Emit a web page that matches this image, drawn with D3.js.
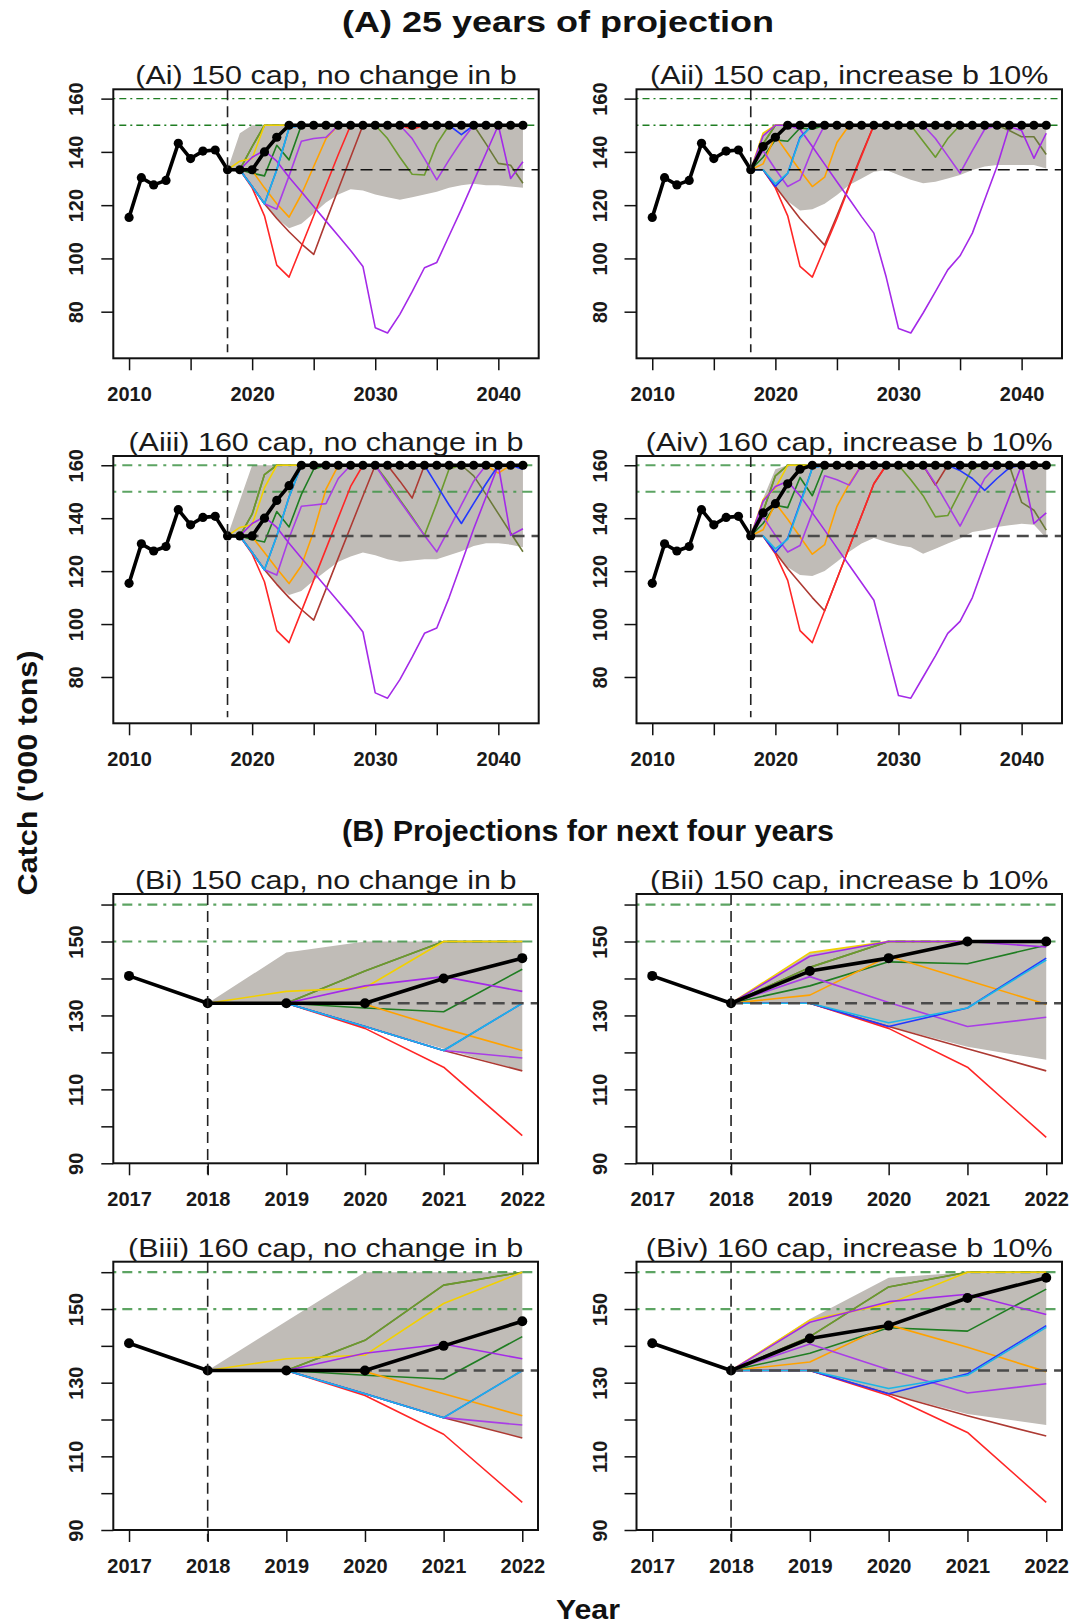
<!DOCTYPE html>
<html>
<head>
<meta charset="utf-8">
<script src="https://cdn.jsdelivr.net/npm/d3@7/dist/d3.min.js"></script>
<style>
  body { margin: 0; background: #fff; }
  svg { display: block; font-family: "Liberation Sans", Arial, sans-serif; }
</style>
</head>
<body>
<div id="chart"></div>
<script>
// ---- data ----
var histYears = [2010, 2011, 2012, 2013, 2014, 2015, 2016, 2017];
var histCatch = [115.4, 130.3, 127.6, 129.3, 143.2, 137.5, 140.3, 140.7];
var projYears = [2018, 2019, 2020, 2021, 2022, 2023, 2024, 2025, 2026, 2027, 2028, 2029, 2030,
                 2031, 2032, 2033, 2034, 2035, 2036, 2037, 2038, 2039, 2040, 2041, 2042];
var refCatch = 133.3;
var capLevels = [150, 160];
var projStart = 2018;

// scenario 1: 150 cap, no change in b
var s1Black  = [133.3,133.3,133.3,140,145.5, 150,150,150,150,150, 150,150,150,150,150, 150,150,150,150,150, 150,150,150,150,150];
var s1Hi     = [133.3,147,150,150,150, 150,150,150,150,150, 150,150,150,150,150, 150,150,150,150,150, 150,150,150,150,150];
var s1Lo     = [133.3,133.3,127,121,115, 111.3,113,117,121,124, 126,125.5,124,123,122, 123,124,125,126.5,127.5, 128,127.5,127.5,127,126.5];
var s1Red    = [133.3,133.3,126.5,116,97.5, 93,104.5,116,127.5,139, 150,150,150,150,150, 148.5,150,150,150,150, 150,150,150,150,150];
var s1Brown  = [133.3,133.3,127,120.5,115, 110,105.5,101.5,113.9,126, 138,150,150,150,150, 150,150,150,150,150, 150,150,150,150,150];
var s1Purple = [133.3,133.3,138,140.5,136.5, 130.5,125,119.5,114,108.5, 103,97,74,72,79, 87.5,96.5,98.5,108.5,118.5, 129,139.5,150,130,136.3];
var s1Violet = [133.3,133.3,127,120.5,118.5, 131,144,145,145.5,150, 150,150,150,150,150, 145,137.5,129.5,137,144, 150,150,150,150,150];
var s1Orange = [133.3,133.3,133,126.5,120.5, 115.5,124,134.5,145,150, 150,150,150,150,150, 150,150,150,150,150, 150,150,150,150,150];
var s1Cyan   = [133.3,133.3,127,120.5,133.3, 149,150,150,150,150, 150,150,150,150,150, 150,150,150,150,150, 150,150,150,150,150];
var s1Blue   = [133.3,133.3,127,120.5,133.3, 149,150,150,150,150, 150,150,150,150,150, 150,150,150,150,146.5, 150,150,150,150,150];
var s1DkGreen= [133.3,133.3,132,131,142.5, 137,150,150,150,150, 150,150,150,150,150, 150,150,150,150,150, 150,150,150,150,150];
var s1Olive  = [133.3,133.3,142,150,150, 150,150,150,150,150, 150,150,150,145,138, 131.6,131.3,143,150,150, 150,150,150,150,150];
var s1Gold   = [133.3,136.5,137.5,150,150, 150,150,150,150,150, 150,150,150,150,150, 150,150,150,150,150, 150,150,150,150,150];
var s1DkOlive= [133.3,133.3,142,150,150, 150,150,150,150,150, 150,150,150,150,150, 150,150,150,150,150, 150,143,135.7,135,128.2];

// scenario 2: 150 cap, increase b 10%
var s2Black  = [133.3,142,145.5,150,150, 150,150,150,150,150, 150,150,150,150,150, 150,150,150,150,150, 150,150,150,150,150];
var s2Hi     = [133.3,147,150,150,150, 150,150,150,150,150, 150,150,150,150,150, 150,150,150,150,150, 150,150,150,150,150];
var s2Lo     = [133.3,133.3,127,121.5,118, 118.5,120.5,123.8,127.6,130, 132.5,133.2,131.3,129.5,128.2, 128.8,130,131.3,133.2,134.5, 135.1,135.1,135.1,135.1,133.8];
var s2Red    = [133.3,133.3,126.5,116,97, 93,104,115,127,138.5, 150,150,150,150,150, 150,150,150,150,150, 150,150,150,150,150];
var s2Brown  = [133.3,133.3,127,121,115, 110,105,116,127.5,139, 150,150,150,150,150, 150,150,150,150,150, 150,150,150,150,150];
var s2Purple = [133.3,146,150,150,148.5, 142,135.4,128.8,122.3,115.7, 109.5,93,73.7,72,79.5, 87.5,95.7,101,109.5,122, 134.5,149.5,148,137.6,147];
var s2Violet = [133.3,140.5,133.5,127,129.5, 141,150,150,150,150, 150,150,150,150,150, 145,138.5,132,140.5,148.5, 150,150,150,150,150];
var s2Orange = [133.3,135.5,146,139.5,133, 127,130.5,143.5,150,150, 150,150,150,150,150, 150,150,150,150,150, 150,150,150,150,150];
var s2Cyan   = [133.3,133.3,128,132,145, 150,150,150,150,150, 150,150,150,150,150, 150,150,150,150,150, 150,150,150,150,150];
var s2Blue   = [133.3,133.3,127,132,145.5, 150,150,150,150,150, 150,150,150,150,150, 150,150,150,150,150, 150,150,150,150,150];
var s2DkGreen= [133.3,138,144.5,144,149, 148.5,150,150,150,150, 150,150,150,150,150, 150,150,150,150,150, 150,150,150,150,150];
var s2Olive  = [133.3,143,150,150,150, 150,150,150,150,150, 150,150,150,150,144, 138,145,150,150,150, 150,150,150,150,150];
var s2Gold   = [133.3,147,150,150,150, 150,150,150,150,150, 150,150,150,150,150, 150,150,150,150,150, 150,150,150,150,150];
var s2DkOlive= [133.3,143,150,150,150, 150,150,150,150,150, 150,150,150,150,150, 150,150,150,150,150, 150,148,145.7,145.7,139];

// scenario 3: 160 cap, no change in b
var s3Black  = [133.3,133.3,133.3,140,146.7, 152.3,160,160,160,160, 160,160,160,160,160, 160,160,160,160,160, 160,160,160,160,160];
var s3Hi     = [133.3,146.7,160,160,160, 160,160,160,160,160, 160,160,160,160,160, 160,160,160,160,160, 160,160,160,160,160];
var s3Lo     = [133.3,133.3,127,120.5,115, 111,112.5,116.5,120,123.5, 125.5,127,126,124.5,123.5, 124,124.5,124.5,126,127.5, 129.5,130.5,130.5,130,129];
var s3Red    = [133.3,133.3,126.5,116,97.5, 93,104.8,116.6,128.4,140.2, 152,160,160,160,160, 160,160,160,160,160, 160,160,160,160,160];
var s3Brown  = [133.3,133.3,127,120.5,115, 110,105.5,101.5,113.2,125, 136.7,148.4,160,160,154, 147.6,160,160,160,160, 160,160,160,160,160];
var s3Purple = [133.3,133.3,138,140.5,136.5, 130.5,125,119.5,114,108.5, 103,97,74,72,79, 87.5,96.5,98.5,110,123, 136,148,160,133.5,136];
var s3Violet = [133.3,133.3,127,120.5,118.5, 132.5,144.5,145,145.5,155, 160,160,160,153,146.5, 140,133.5,127.3,136,145, 154,160,160,160,160];
var s3Orange = [133.3,133.3,133,127,121, 115.3,122,135,151,160, 160,160,160,160,160, 160,160,160,160,160, 160,160,157,160,160];
var s3Cyan   = [133.3,133.3,127,120.5,133.3, 148,160,160,160,160, 160,160,160,160,160, 160,160,160,160,160, 160,160,160,160,160];
var s3Blue   = [133.3,133.3,127,120.5,133.3, 148,160,160,160,160, 160,160,160,160,160, 160,160,152.5,145,138, 145.6,153,160,160,158.5];
var s3DkGreen= [133.3,133.3,132,131,142.5, 136.7,149,158.5,160,160, 160,160,160,160,160, 160,160,160,160,160, 160,160,160,160,160];
var s3Olive  = [133.3,133.3,141.5,156.5,160, 160,160,160,160,160, 160,160,160,154,147, 140.5,133.5,145.6,158.6,160, 160,160,160,160,160];
var s3Gold   = [133.3,136.5,137.5,151.5,160, 160,160,160,160,160, 160,160,160,160,160, 160,160,160,160,160, 160,160,160,160,160];
var s3DkOlive= [133.3,133.3,141.5,156.5,160, 160,160,160,160,160, 160,160,160,160,160, 160,160,160,160,160, 156,149,141.7,134.5,127.3];

// scenario 4: 160 cap, increase b 10%
var s4Black  = [133.3,142,145.5,153,158.5, 160,160,160,160,160, 160,160,160,160,160, 160,160,160,160,160, 160,160,160,160,160];
var s4Hi     = [133.3,147.3,158.5,160,160, 160,160,160,160,160, 160,160,160,160,160, 160,160,160,160,160, 160,160,160,160,160];
var s4Lo     = [133.3,133.3,127,121.5,118.5, 118.2,120,123.5,127.3,130.4, 132.5,131,129.8,129,126.6, 128.5,130.4,132.3,134.8,135.5, 136.7,137.3,137.9,137.5,132.5];
var s4Red    = [133.3,133.3,126.5,116.5,97.5, 93,105,117,129,141, 153,160,160,160,160, 160,160,160,160,160, 160,160,160,160,160];
var s4Brown  = [133.3,133.3,127,121,115.5, 110,105,117,129,141, 153,160,160,160,160, 152.5,160,160,160,160, 160,160,160,160,160];
var s4Purple = [133.3,146.4,152,154,148.5, 142,135.5,128.8,122.2,115.6, 109,91,73,72,80, 88,96.5,101,110,123, 136,148,160,138,142];
var s4Violet = [133.3,140.5,133.5,127.2,129.7, 142,156,154.5,152.5,160, 160,160,160,160,160, 153,145,137,146,155, 160,160,160,160,160];
var s4Orange = [133.3,135.6,145.7,139.6,133, 126.4,130,144.5,153,160, 160,160,160,160,160, 160,160,160,160,160, 160,160,160,160,160];
var s4Cyan   = [133.3,133.3,128.4,132,145, 159,160,160,160,160, 160,160,160,160,160, 160,160,160,160,160, 160,160,160,160,160];
var s4Blue   = [133.3,133.3,127,132.4,145.5, 159,160,160,160,160, 160,160,160,160,160, 160,160,158,155,150.5, 155,159,160,160,160];
var s4DkGreen= [133.3,138,144.9,144,155.4, 148.5,160,160,160,160, 160,160,160,160,160, 160,160,160,160,160, 160,160,160,160,160];
var s4Olive  = [133.3,142.5,156,160,160, 160,160,160,160,160, 160,160,160,154.5,148.5, 140.5,141,150,159,160, 160,160,160,160,160];
var s4Gold   = [133.3,147,151.4,160,160, 160,160,160,160,160, 160,160,160,160,160, 160,160,160,160,160, 160,160,160,160,160];
var s4DkOlive= [133.3,142.5,156,160,160, 160,160,160,160,160, 160,160,160,160,160, 160,160,160,160,160, 160,160,146,143,135.5];

// ---- styles ----
var lineColors = {
    dkolive: "#6c7a3a", olive: "#6b9a2e", dkgreen: "#1f7d22", gold: "#f2d000",
    brown: "#ad3a33", red: "#ff2626", orange: "#ffa200", blue: "#2438ff",
    cyan: "#1cb6e6", violet: "#a93ee6", purple: "#a42ae8"
};
// later entries are drawn on top
var drawOrder = ["dkolive", "olive", "dkgreen", "gold", "brown", "red", "orange", "violet", "purple", "blue", "cyan"];
var bandColor = "#c0bcb7";

function scenario(black, hi, lo, lines) { return { black: black, hi: hi, lo: lo, lines: lines }; }
var sc1 = scenario(s1Black, s1Hi, s1Lo, { red: s1Red, brown: s1Brown, purple: s1Purple, violet: s1Violet, orange: s1Orange,
    cyan: s1Cyan, blue: s1Blue, dkgreen: s1DkGreen, olive: s1Olive, gold: s1Gold, dkolive: s1DkOlive });
var sc2 = scenario(s2Black, s2Hi, s2Lo, { red: s2Red, brown: s2Brown, purple: s2Purple, violet: s2Violet, orange: s2Orange,
    cyan: s2Cyan, blue: s2Blue, dkgreen: s2DkGreen, olive: s2Olive, gold: s2Gold, dkolive: s2DkOlive });
var sc3 = scenario(s3Black, s3Hi, s3Lo, { red: s3Red, brown: s3Brown, purple: s3Purple, violet: s3Violet, orange: s3Orange,
    cyan: s3Cyan, blue: s3Blue, dkgreen: s3DkGreen, olive: s3Olive, gold: s3Gold, dkolive: s3DkOlive });
var sc4 = scenario(s4Black, s4Hi, s4Lo, { red: s4Red, brown: s4Brown, purple: s4Purple, violet: s4Violet, orange: s4Orange,
    cyan: s4Cyan, blue: s4Blue, dkgreen: s4DkGreen, olive: s4Olive, gold: s4Gold, dkolive: s4DkOlive });

// panel layout: box = [left, top, right, bottom]
var panels = [
    { title: "(Ai) 150 cap, no change in b",    s: sc1, kind: "A", heavy: false, box: [113.3, 89.3, 538.7, 358.3] },
    { title: "(Aii) 150 cap, increase b 10%",   s: sc2, kind: "A", heavy: false, box: [636.5, 89.3, 1062, 358.3] },
    { title: "(Aiii) 160 cap, no change in b",  s: sc3, kind: "A", heavy: true,  box: [113.3, 456, 538.7, 723.3] },
    { title: "(Aiv) 160 cap, increase b 10%",   s: sc4, kind: "A", heavy: true,  box: [636.5, 456, 1062, 723.3] },
    { title: "(Bi) 150 cap, no change in b",    s: sc1, kind: "B", heavy: true,  box: [113.3, 894, 538, 1163.3] },
    { title: "(Bii) 150 cap, increase b 10%",   s: sc2, kind: "B", heavy: true,  box: [636.5, 894, 1062, 1163.3] },
    { title: "(Biii) 160 cap, no change in b",  s: sc3, kind: "B", heavy: true,  box: [113.3, 1261.7, 538, 1530] },
    { title: "(Biv) 160 cap, increase b 10%",   s: sc4, kind: "B", heavy: true,  box: [636.5, 1261.7, 1062, 1530] }
];

var svg = d3.select("#chart").append("svg")
    .attr("width", 1073).attr("height", 1624);

function stretchText(sel, factor) {
    sel.each(function() {
        var w = this.getComputedTextLength();
        d3.select(this).attr("textLength", w * factor).attr("lengthAdjust", "spacingAndGlyphs");
    });
}

panels.forEach(function(p, i) {
    var b = p.box, isA = p.kind === "A";
    var x = d3.scaleLinear().domain(isA ? [2008.72, 2043.28] : [2016.8, 2022.2]).range([b[0], b[2]]);
    var y = d3.scaleLinear().domain(isA ? [62.5, 163.5] : [90, 162.85]).range([b[3], b[1]]);
    var lastYear = isA ? 2042 : 2022, firstYear = isA ? 2010 : 2017;

    svg.append("clipPath").attr("id", "clip" + i).append("rect")
        .attr("x", b[0]).attr("y", b[1]).attr("width", b[2] - b[0]).attr("height", b[3] - b[1]);
    var g = svg.append("g");
    var plot = g.append("g").attr("clip-path", "url(#clip" + i + ")");

    // shaded interval
    var band = projYears.map(function(yr, k) { return { yr: yr, lo: p.s.lo[k], hi: p.s.hi[k] }; })
        .filter(function(d) { return d.yr <= lastYear; });
    plot.append("path").datum(band)
        .attr("d", d3.area().x(function(d) { return x(d.yr); })
            .y0(function(d) { return y(d.lo); }).y1(function(d) { return y(d.hi); }))
        .attr("fill", bandColor);

    // cap reference lines
    capLevels.forEach(function(c) {
        plot.append("line")
            .attr("x1", b[0]).attr("x2", b[2]).attr("y1", y(c)).attr("y2", y(c))
            .attr("stroke", p.heavy ? "#3f9447" : "#1f7d22")
            .attr("stroke-width", p.heavy ? 2.2 : 1.3)
            .attr("stroke-opacity", p.heavy ? 0.85 : 1)
            .attr("stroke-dasharray", p.heavy ? "3,6,10,6" : "2,4,7,4");
    });

    // individual trajectories
    var line = d3.line().x(function(d) { return x(d.yr); }).y(function(d) { return y(d.v); });
    drawOrder.forEach(function(key) {
        var pts = projYears.map(function(yr, k) { return { yr: yr, v: p.s.lines[key][k] }; })
            .filter(function(d) { return d.yr <= lastYear; });
        plot.append("path").datum(pts)
            .attr("d", line)
            .attr("fill", "none")
            .attr("stroke", lineColors[key])
            .attr("stroke-width", 1.6)
            .attr("stroke-linejoin", "round");
    });

    // reference catch (dashed)
    plot.append("line")
        .attr("x1", x(projStart)).attr("x2", b[2]).attr("y1", y(refCatch)).attr("y2", y(refCatch))
        .attr("stroke", p.heavy ? "#4a4a4a" : "#111")
        .attr("stroke-width", p.heavy ? 2.4 : 1.6)
        .attr("stroke-dasharray", "12,7");

    // observed + median catch
    var blackPts = histYears.concat(projYears).map(function(yr, k) {
        return { yr: yr, v: k < histCatch.length ? histCatch[k] : p.s.black[k - histCatch.length] };
    }).filter(function(d) { return d.yr >= firstYear && d.yr <= lastYear; });
    g.append("path").datum(blackPts)
        .attr("d", line).attr("fill", "none").attr("stroke", "#000")
        .attr("stroke-width", 3.6).attr("stroke-linejoin", "round");
    g.selectAll(null).data(blackPts).enter().append("circle")
        .attr("cx", function(d) { return x(d.yr); })
        .attr("cy", function(d) { return y(d.v); })
        .attr("r", isA ? 4.6 : 5)
        .attr("fill", "#000");

    // start of projection
    g.append("line")
        .attr("x1", x(projStart)).attr("x2", x(projStart))
        .attr("y1", b[1]).attr("y2", isA ? b[3] - 6 : b[3] + 11)
        .attr("stroke", "#222").attr("stroke-width", 1.6).attr("stroke-dasharray", "11,6");

    // frame
    g.append("rect")
        .attr("x", b[0]).attr("y", b[1]).attr("width", b[2] - b[0]).attr("height", b[3] - b[1])
        .attr("fill", "none").attr("stroke", "#111").attr("stroke-width", 2);

    // axes
    var xTicks = isA ? [2010, 2015, 2020, 2025, 2030, 2035, 2040] : [2017, 2018, 2019, 2020, 2021, 2022];
    var yTicks = isA ? [80, 100, 120, 140, 160] : [90, 100, 110, 120, 130, 140, 150, 160];
    var xAxis = g.append("g").attr("transform", "translate(0," + b[3] + ")")
        .call(d3.axisBottom(x).tickValues(xTicks).tickSize(12).tickPadding(17)
            .tickFormat(function(d) { return (isA && d % 10 !== 0) ? "" : d; }));
    var yAxis = g.append("g").attr("transform", "translate(" + b[0] + ",0)")
        .call(d3.axisLeft(y).tickValues(yTicks).tickSize(12)
            .tickFormat(function(d) { return (!isA && d % 20 === 0) ? "" : d; }));
    [xAxis, yAxis].forEach(function(ax) {
        ax.select(".domain").remove();
        ax.selectAll(".tick line").attr("stroke", "#111").attr("stroke-width", 1.5);
        ax.selectAll(".tick text").attr("fill", "#1a1a1a")
            .style("font-size", "20px").style("font-weight", "bold")
            .style("font-family", "'Liberation Sans', Arial, sans-serif");
    });
    yAxis.selectAll(".tick text")
        .attr("x", null).attr("dy", null)
        .attr("text-anchor", "middle").attr("dominant-baseline", "central")
        .attr("transform", "translate(-37,0) rotate(-90)");

    // panel title
    svg.append("text")
        .attr("x", (b[0] + b[2]) / 2).attr("y", b[1] - 5)
        .attr("text-anchor", "middle")
        .style("font-size", "26px").attr("fill", "#1a1a1a")
        .text(p.title)
        .call(stretchText, 1.173);
});

// figure titles
svg.append("text").attr("x", 342).attr("y", 32)
    .style("font-size", "29px").style("font-weight", "bold").attr("fill", "#111")
    .text("(A) 25 years of projection")
    .attr("textLength", 432).attr("lengthAdjust", "spacingAndGlyphs");
svg.append("text").attr("x", 342).attr("y", 841)
    .style("font-size", "29px").style("font-weight", "bold").attr("fill", "#111")
    .text("(B) Projections for next four years")
    .attr("textLength", 492).attr("lengthAdjust", "spacingAndGlyphs");
svg.append("text").attr("transform", "translate(37,773) rotate(-90)")
    .attr("text-anchor", "middle")
    .style("font-size", "28px").style("font-weight", "bold").attr("fill", "#111")
    .text("Catch ('000 tons)")
    .attr("textLength", 245).attr("lengthAdjust", "spacingAndGlyphs");
svg.append("text").attr("x", 556).attr("y", 1619)
    .style("font-size", "28px").style("font-weight", "bold").attr("fill", "#111")
    .text("Year")
    .attr("textLength", 64).attr("lengthAdjust", "spacingAndGlyphs");
</script>
</body>
</html>
